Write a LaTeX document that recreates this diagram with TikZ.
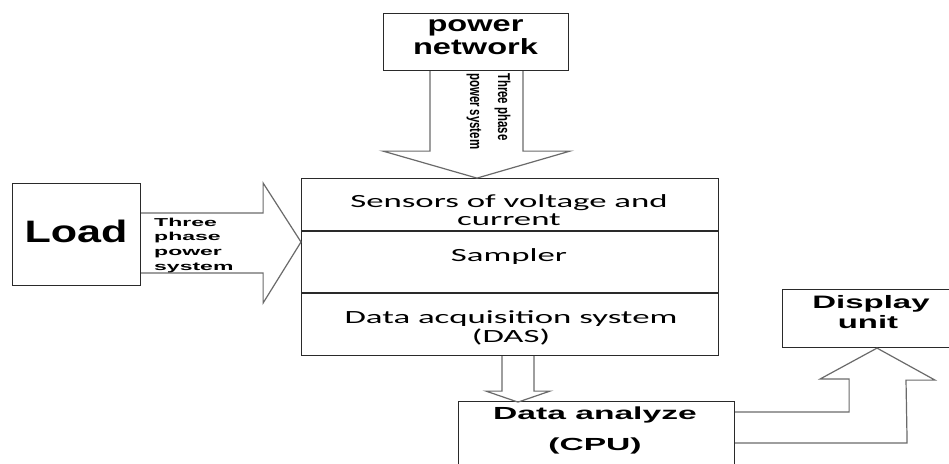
\documentclass[tikz,border=0pt]{standalone}
\usepackage{fontspec}
\setmainfont{Liberation Sans}
\newfontfamily\calfont{Carlito}
\usetikzlibrary{calc}
\definecolor{boxcol}{HTML}{2A2A2A}
\definecolor{arrowcol}{HTML}{6A6A6A}
\newcommand\sx[2]{\scalebox{#1}[1]{#2}}
\tikzset{
  box/.style={draw=boxcol, line width=1.1pt, inner sep=0pt, anchor=north west},
  blockarrow/.style={draw=arrowcol, line width=1.2pt, line join=miter},
  lbl/.style={inner sep=0pt, anchor=base, text=black},
  lblw/.style={inner sep=0pt, anchor=base west, text=black},
}
\begin{document}
\begin{tikzpicture}[x=1pt, y=-1pt]
\fill[white] (0,0) rectangle (949,463);
\useasboundingbox (0,0) rectangle (949,463);
\clip (0,0) rectangle (949,463);

% blocks
\node[box, minimum width=185pt, minimum height=57pt]  (pn)   at (383,13)  {};
\node[box, minimum width=128pt, minimum height=102pt] (load) at (12,183)  {};
\node[box, minimum width=417pt, minimum height=177pt] (main) at (301,178) {};
\node[box, minimum width=276pt, minimum height=90pt]  (cpu)  at (458,401) {};
\node[box, minimum width=190pt, minimum height=58pt]  (disp) at (782,289) {};

% stage dividers of the acquisition block
\coordinate (d1w) at ($(main.north west)+(0,53)$);
\coordinate (d2w) at ($(main.north west)+(0,115)$);
\draw[draw=boxcol, line width=1.1pt] (d1w) -- (d1w -| main.east);
\draw[draw=boxcol, line width=1.1pt] (d2w) -- (d2w -| main.east);

% block arrow: power network -> sensors
\coordinate (pa) at ($(pn.south west)+(47,0)$);
\coordinate (pb) at ($(pn.south west)+(140,0)$);
\draw[blockarrow] (pa) -- ++(0,80) -- ++(-47,0) -- ($(pa)+(47,107)$)
  -- ($(pb)+(47,80)$) -- ($(pb)+(0,80)$) -- (pb);

% block arrow: load -> sensors
\coordinate (la) at ($(load.north east)+(0,30)$);
\coordinate (lb) at ($(load.north east)+(0,90)$);
\draw[blockarrow] (la) -- ++(122,0) -- ++(0,-30) -- ($(main.north west)+(0,64)$)
  -- ($(lb)+(122,30)$) -- ($(lb)+(122,0)$) -- (lb);

% block arrow: DAS -> CPU
\coordinate (da) at ($(main.south west)+(201,0)$);
\coordinate (db) at ($(main.south west)+(233,0)$);
\draw[blockarrow] (da) -- ++(0,35) -- ++(-16,0) -- ($(da)+(16,46)$)
  -- ($(db)+(16,35)$) -- ($(db)+(0,35)$) -- (db);

% bent block arrow: CPU -> display
\coordinate (ca) at ($(cpu.north east)+(0,11)$);
\coordinate (cb) at ($(cpu.north east)+(0,42)$);
\draw[blockarrow] (ca) -- ++(114,0) -- ++(0,-33) -- ++(-29,0)
  -- ($(disp.south west)+(95,0)$) -- ++(58,32) -- ++(-29,0)
  -- ($(cb)+(172,0)$) -- (cb);

% texts
\node[lbl, font=\bfseries\fontsize{22}{20}\selectfont] (pn1) at (475.5,31.5) {\sx{1.48}{power}};
\node[lbl, font=\bfseries\fontsize{22}{20}\selectfont] (pn2) at (475.5,54) {\sx{1.48}{network}};

\node[lbl, font=\bfseries\fontsize{11.4}{14}\selectfont, rotate=-90, anchor=base west] (v1) at (498,73) {\scalebox{1}[1.5]{Three phase}};
\node[lbl, font=\bfseries\fontsize{11.4}{14}\selectfont, rotate=-90, anchor=base west] (v2) at (470,73) {\scalebox{1}[1.5]{power system}};

\node[lbl, font=\bfseries\fontsize{31}{31}\selectfont] (ld) at (76,242) {\sx{1.39}{Load}};

\node[lblw, font=\bfseries\fontsize{11.5}{14}\selectfont] (t1) at (154,226)   {\sx{2.0}{Three}};
\node[lblw, font=\bfseries\fontsize{11.5}{14}\selectfont] (t2) at (154,240.5) {\sx{2.0}{phase}};
\node[lblw, font=\bfseries\fontsize{11.5}{14}\selectfont] (t3) at (154,255)   {\sx{2.0}{power}};
\node[lblw, font=\bfseries\fontsize{11.5}{14}\selectfont] (t4) at (154,270)   {\sx{2.0}{system}};

\node[lbl, font=\calfont\fontsize{18.6}{18}\selectfont] (s1) at (509,207) {\sx{1.87}{Sensors of voltage and}};
\node[lbl, font=\calfont\fontsize{18.6}{18}\selectfont] (s2) at (509,225) {\sx{1.87}{current}};
\node[lbl, font=\calfont\fontsize{18.6}{18}\selectfont] (s3) at (509,261) {\sx{1.87}{Sampler}};
\node[lbl, font=\calfont\fontsize{18.6}{18}\selectfont] (s4) at (511,323) {\sx{1.87}{Data acquisition system}};
\node[lbl, font=\calfont\fontsize{18.6}{18}\selectfont] (s5) at (511,342) {\sx{1.87}{(DAS)}};

\node[lbl, font=\bfseries\fontsize{17.5}{18}\selectfont] (c1) at (595,419) {\sx{1.92}{Data analyze}};
\node[lbl, font=\bfseries\fontsize{17.5}{18}\selectfont] (c2) at (595,450) {\sx{1.92}{(CPU)}};

\node[lbl, font=\bfseries\fontsize{18}{18}\selectfont] (u1) at (871,308) {\sx{1.83}{Display}};
\node[lbl, font=\bfseries\fontsize{18}{18}\selectfont] (u2) at (868,328) {\sx{1.83}{unit}};
\end{tikzpicture}
\end{document}
